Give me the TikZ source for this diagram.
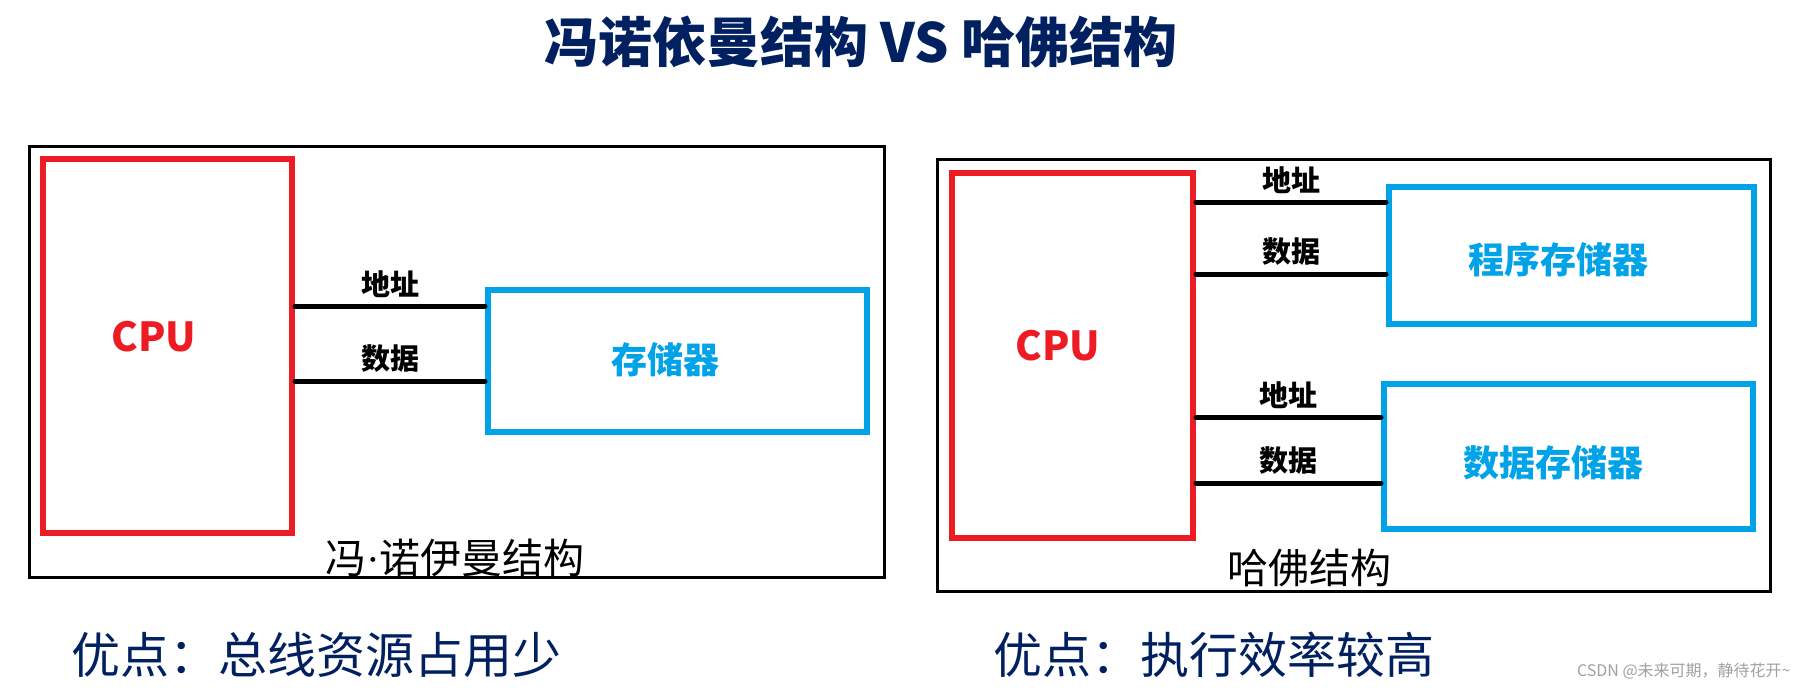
\documentclass[tikz,border=0pt]{standalone}
\usepackage{fontspec}
\usepackage{tikz}
\newfontfamily\cjk{Noto Sans CJK SC}
\newfontfamily\dotfont{Liberation Serif}
\definecolor{titlenavy}{RGB}{0,32,96}
\definecolor{cpured}{RGB}{237,28,36}
\definecolor{memblue}{RGB}{0,162,232}
\definecolor{markgray}{RGB}{160,160,160}

\begin{document}
\begin{tikzpicture}[
  x=0.5pt, y=-0.5pt,
  font=\cjk,
  frame/.style={draw=black, line width=1.5pt, inner sep=0pt},
  cpubox/.style={draw=cpured, line width=3pt, inner sep=0pt},
  membox/.style={draw=memblue, line width=3pt, inner sep=0pt},
  memtxt/.style={text=memblue, font=\cjk\bfseries\fontsize{18}{20}\selectfont},
  cputxt/.style={text=cpured, font=\cjk\bfseries\fontsize{20}{22}\selectfont},
  bus/.style={line width=2.5pt, line cap=round},
  buslbl/.style={above, inner sep=3pt, font=\cjk\bfseries\fontsize{14.5}{16}\selectfont},
  captxt/.style={font=\cjk\fontsize{20.5}{22}\selectfont},
  merit/.style={anchor=west, inner sep=0pt, text=titlenavy, font=\cjk\fontsize{24.5}{26}\selectfont}
]
\useasboundingbox (0,0) rectangle (1806,696);

\node[text=titlenavy, font=\cjk\bfseries\fontsize{27}{29}\selectfont] (title) at (861,42) {冯诺依曼结构 VS 哈佛结构};

% von Neumann
\node[frame, minimum width=427.5pt, minimum height=215.5pt] (frameL) at (457,362) {};
\node[cpubox, minimum width=124.5pt, minimum height=187pt] (cpuL) at (167.5,346) {};
\node[membox, minimum width=189.5pt, minimum height=71pt] (memL) at (677.5,361) {};
\node[cputxt] (cpuLtxt) at (154,337) {CPU};
\node[memtxt] (memLtxt) at (665,360) {存储器};
\draw[bus] (cpuL.east |- 0,306) -- (memL.west |- 0,306) node[buslbl, midway] (addrL) {地址};
\draw[bus] (cpuL.east |- 0,381) -- (memL.west |- 0,381) node[buslbl, midway] (dataL) {数据};
\node[captxt] (capL) at (455,558) {冯{\dotfont ·}诺伊曼结构};

% Harvard
\node[frame, minimum width=416.5pt, minimum height=216pt] (frameR) at (1354,375.5) {};
\node[cpubox, minimum width=120.5pt, minimum height=182.5pt] (cpuR) at (1072.5,355.5) {};
\node[membox, minimum width=182.5pt, minimum height=68.5pt] (prog) at (1571.5,255.5) {};
\node[membox, minimum width=184.5pt, minimum height=72.5pt] (data) at (1568.5,456.5) {};
\node[cputxt] (cpuRtxt) at (1058,346) {CPU};
\node[memtxt] (progtxt) at (1558,260) {程序存储器};
\node[memtxt] (datatxt) at (1553,463) {数据存储器};
\draw[bus] (cpuR.east |- 0,202) -- (prog.west |- 0,202) node[buslbl, midway] (addrP) {地址};
\draw[bus] (cpuR.east |- 0,274) -- (prog.west |- 0,274) node[buslbl, midway] (dataP) {数据};
\draw[bus] (cpuR.east |- 0,417) -- (data.west |- 0,417) node[buslbl, midway] (addrD) {地址};
\draw[bus] (cpuR.east |- 0,483) -- (data.west |- 0,483) node[buslbl, midway] (dataD) {数据};
\node[captxt] (capR) at (1309,568) {哈佛结构};

\node[merit] (meritL) at (71,655) {优点：总线资源占用少};
\node[merit] (meritR) at (993,655) {优点：执行效率较高};
\node[anchor=east, inner sep=0pt, text=markgray, font=\cjk\fontsize{8}{9}\selectfont] (mark) at (1791,671) {CSDN @未来可期，静待花开\textasciitilde};
\end{tikzpicture}
\end{document}
